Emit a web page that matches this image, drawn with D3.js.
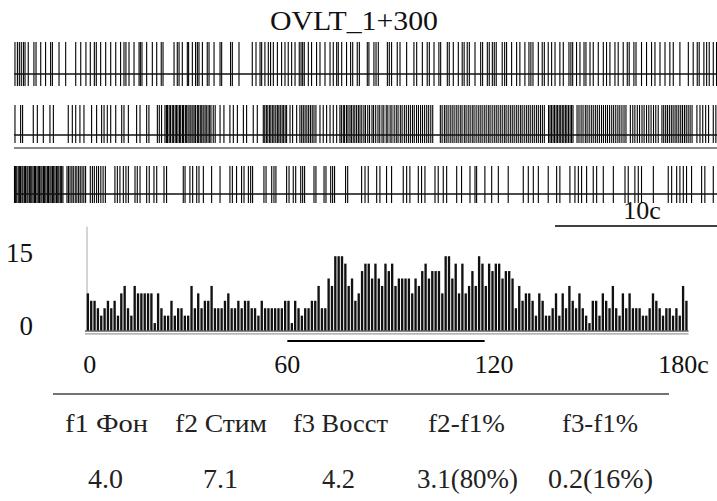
<!DOCTYPE html>
<html><head><meta charset="utf-8">
<script src="https://cdn.jsdelivr.net/npm/d3@7"></script>
<style>body{margin:0;background:#fff}svg{display:block}svg text{font-family:"Liberation Serif","Times New Roman",Times,serif;}</style>
</head><body>
<svg id="c" width="717" height="501"></svg>
<script>
const title = "OVLT_1+300";
const rasterRow1 = [0.06,0.21,0.33,0.45,0.58,0.68,0.88,1.23,1.36,1.65,1.95,2.26,2.37,2.78,3.19,3.81,4.12,4.44,4.71,4.96,5.08,5.35,5.66,5.97,6.28,6.58,6.79,6.91,7.10,7.41,7.72,7.80,7.90,8.19,8.54,8.81,9.09,9.20,9.88,10.08,10.19,10.39,10.70,10.78,11.01,11.21,11.32,11.42,11.63,11.93,12.04,12.35,12.72,12.82,13.37,13.48,13.89,14.71,14.94,15.19,15.29,15.49,15.70,15.84,16.01,16.26,16.52,16.73,16.93,17.14,17.35,17.61,17.72,17.82,17.92,18.17,18.37,18.68,18.89,19.20,19.51,19.71,19.92,20.02,20.23,20.53,20.78,20.91,21.19,21.32,21.81,21.91,22.22,22.35,22.49,23.05,23.17,23.31,23.66,23.83,24.24,24.69,24.86,25.21,25.51,25.64,25.93,26.23,26.34,26.75,26.87,27.12,27.43,27.67,27.79,27.98,28.11,28.46,28.81,28.93,29.22,29.34,29.53,29.65,29.77,30.14,30.29,30.41,30.72,31.03,31.23,31.54,31.79,31.91,32.04,32.37,32.61,32.74,32.98,33.19,33.40,33.70,33.91,34.26,34.38,34.49,34.73,34.94,35.19,35.31,35.56,35.76,36.07,36.38,36.58,36.79,37.10,37.30,37.61,37.86,37.98,38.27,38.40,38.74,39.05,39.36,39.57,39.88,40.19,40.49,40.70,41.11,41.63,41.93,42.18,42.30,42.59,42.76,42.92,43.17,43.37];
const rasterRow2 = [0.06,0.41,0.53,1.19,1.44,1.81,2.22,2.43,3.35,3.60,3.81,4.07,4.32,4.79,5.10,5.41,5.56,5.76,5.97,6.28,6.65,6.79,7.06,7.57,7.78,8.19,8.33,8.85,8.97,9.11,9.32,9.41,9.48,9.58,9.66,9.77,9.84,9.95,10.03,10.12,10.22,10.29,10.40,10.47,10.58,10.66,10.75,10.86,10.93,11.04,11.12,11.21,11.32,11.40,11.50,11.59,11.68,11.79,11.87,11.98,12.08,12.16,12.30,12.42,12.72,12.96,13.33,13.54,13.79,14.16,14.36,14.77,15.02,15.39,15.48,15.58,15.67,15.78,15.86,15.97,16.05,16.16,16.26,16.35,16.44,16.55,16.63,16.74,16.83,17.04,17.20,17.45,17.65,17.76,17.86,17.97,18.08,18.19,18.30,18.41,18.52,18.64,18.89,19.09,19.30,19.51,19.71,19.92,20.12,20.21,20.33,20.41,20.53,20.62,20.74,20.83,20.94,21.04,21.15,21.26,21.36,21.47,21.60,21.70,21.84,21.95,22.10,22.20,22.33,22.47,22.58,22.72,22.83,22.98,23.08,23.22,23.33,23.47,23.60,23.71,23.85,23.96,24.10,24.22,24.35,24.47,24.60,24.71,24.85,24.97,25.10,25.22,25.35,25.48,25.60,25.73,25.85,26.32,26.43,26.57,26.68,26.80,26.93,27.05,27.17,27.30,27.42,27.55,27.66,27.80,27.91,28.04,28.16,28.29,28.40,28.53,28.66,28.78,28.90,29.03,29.15,29.28,29.39,29.52,29.65,29.77,29.89,30.02,30.14,30.27,30.38,30.51,30.64,30.76,30.88,31.01,31.13,31.26,31.37,31.50,31.63,31.75,31.87,32.00,32.12,32.25,32.37,32.50,32.62,32.74,33.00,33.09,33.18,33.28,33.37,33.47,33.56,33.66,33.75,33.85,33.94,34.04,34.13,34.23,34.33,34.42,34.51,34.76,34.88,35.01,35.13,35.27,35.38,35.51,35.64,35.76,35.89,36.01,36.14,36.27,36.39,36.52,36.64,36.77,36.90,37.02,37.15,37.28,37.40,37.53,37.66,37.78,38.05,38.20,38.33,38.48,38.62,38.77,38.90,39.05,39.19,39.33,39.48,39.62,39.77,40.00,40.11,40.23,40.34,40.46,40.58,40.69,40.81,40.92,41.04,41.16,41.27,41.39,41.50,41.62,41.74,41.86,42.16,42.35,42.52,42.70,42.88,43.17,43.33];
const rasterRow3 = [0.03,0.10,0.17,0.26,0.33,0.40,0.49,0.55,0.64,0.71,0.80,0.86,0.95,1.03,1.10,1.18,1.27,1.33,1.42,1.50,1.57,1.66,1.73,1.82,1.89,1.97,2.06,2.13,2.22,2.29,2.38,2.45,2.53,2.62,2.70,2.77,2.86,2.94,3.02,3.27,3.36,3.46,3.57,3.66,3.78,3.88,3.99,4.09,4.20,4.31,4.42,4.71,4.84,4.96,5.10,5.22,5.36,5.50,5.64,6.23,6.38,6.54,6.75,6.91,7.06,7.47,7.61,7.78,8.19,8.35,8.64,8.81,9.26,9.42,10.45,10.56,10.86,11.03,11.28,11.42,11.69,12.20,12.72,13.33,13.48,13.74,14.05,14.20,14.47,14.61,14.73,15.43,15.56,15.91,16.05,16.17,16.83,16.98,17.24,17.39,17.70,17.82,17.94,18.52,18.64,19.14,19.26,19.55,19.67,19.79,20.47,20.60,21.46,21.67,21.87,22.39,22.59,23.00,23.31,24.03,24.24,24.44,24.96,25.16,25.37,25.99,26.19,26.50,26.71,27.33,27.63,28.15,28.46,28.56,29.07,29.49,29.90,30.51,31.44,31.75,32.06,32.37,32.98,33.50,33.70,34.32,34.63,34.84,35.04,35.35,35.76,35.97,36.38,37.00,37.72,37.92,38.33,38.54,38.74,39.47,40.39,40.60,40.91,41.11,41.32,41.52,41.83,42.45,42.65,43.17];
const scaleBarSeconds = 10;
const scaleBarLabel = "10c";
const histCounts = [5,4,4,3,2,3,4,3,4,2,5,6,3,2,6,5,5,5,5,5,1,5,3,2,2,4,2,3,3,2,2,6,3,5,3,4,4,6,3,3,3,4,5,3,3,4,3,4,4,3,3,2,4,3,3,3,3,3,3,4,
4,1,4,3,2,3,3,4,4,6,3,3,7,6,10,10,10,9,6,7,4,5,8,9,9,7,9,7,6,9,8,9,6,7,7,7,7,5,7,6,8,9,7,8,8,8,5,10,10,7,9,5,9,5,6,8,6,10,9,6,
9,8,9,9,7,8,8,7,3,6,4,5,5,4,2,5,4,2,2,3,5,2,5,3,6,4,3,5,3,2,1,4,4,2,5,4,3,6,3,2,5,3,5,3,3,3,2,2,3,5,4,3,2,3,3,2,3,2,6,4];
const yTickValues = [0, 15];
const yTickLabels = ["0", "15"];
const xTickValues = [0, 60, 120, 180];
const xTickLabels = ["0", "60", "120", "180c"];
const stimulus = [60, 119];
const tableHeaders = ["f1 Фон", "f2 Стим", "f3 Восст", "f2-f1%", "f3-f1%"];
const tableValues = ["4.0", "7.1", "4.2", "3.1(80%)", "0.2(16%)"];

const svg = d3.select("#c");

// title
svg.append("text").attr("x", 270).attr("y", 30)
  .attr("textLength", 168).attr("lengthAdjust", "spacingAndGlyphs")
  .attr("font-size", 28).attr("fill", "#111").text(title);

// rasters
const xr = d3.scaleLinear().domain([0, 43.4]).range([14, 717]);
const rows = [
  {data: rasterRow1, y0: 42, y1: 86, base: 74},
  {data: rasterRow2, y0: 105, y1: 143, base: 135},
  {data: rasterRow3, y0: 166, y1: 203, base: 194}
];
rows.forEach(r => {
  svg.append("g").selectAll("line").data(r.data).join("line")
    .attr("x1", d => xr(d)).attr("x2", d => xr(d))
    .attr("y1", r.y0).attr("y2", r.y1)
    .attr("stroke", "#000").attr("stroke-width", 1.1);
  svg.append("line").attr("x1", xr(0)).attr("x2", xr.range()[1])
    .attr("y1", r.base).attr("y2", r.base).attr("stroke", "#111").attr("stroke-width", 1.5);
});
svg.append("line").attr("x1", xr(0)).attr("x2", xr.range()[1])
  .attr("y1", 148).attr("y2", 148).attr("stroke", "#888").attr("stroke-width", 2);

// scale bar
const sbEnd = xr.domain()[1], sbStart = sbEnd - scaleBarSeconds;
svg.append("line").attr("x1", xr(sbStart)).attr("x2", xr(sbEnd))
  .attr("y1", 226).attr("y2", 226).attr("stroke", "#000").attr("stroke-width", 1.6);
svg.append("text").attr("x", 642).attr("y", 219).attr("text-anchor", "middle")
  .attr("font-size", 26).attr("fill", "#111").text(scaleBarLabel);

// histogram
const xh = d3.scaleLinear().domain([0, 180]).range([86.7, 688.6]);
const yh = d3.scaleLinear().domain([0, 14]).range([330.5, 226.5]);
const yLab = d3.scaleLinear().domain([0, 15]).range([326, 253]);
svg.append("line").attr("x1", 87).attr("x2", 87).attr("y1", yh(14)).attr("y2", yh(0))
  .attr("stroke", "#aaa").attr("stroke-width", 1);
svg.append("g").selectAll("rect").data(histCounts).join("rect")
  .attr("x", (d, i) => xh(i)).attr("width", (d, i) => xh(i + 1) - xh(i) - 1)
  .attr("y", d => yh(d)).attr("height", d => yh(0) - yh(d))
  .attr("fill", "#111");
svg.append("line").attr("x1", 85).attr("x2", xh(180)).attr("y1", 331).attr("y2", 331)
  .attr("stroke", "#111").attr("stroke-width", 1.2);
svg.append("line").attr("x1", 85).attr("x2", xh(180)).attr("y1", 333.8).attr("y2", 333.8)
  .attr("stroke", "#999").attr("stroke-width", 1.2);
svg.append("g").selectAll("text").data(yTickValues).join("text")
  .attr("x", 33).attr("y", d => yLab(d)).attr("dy", "0.35em").attr("text-anchor", "end")
  .attr("font-size", 27).attr("fill", "#111").text((d, i) => yTickLabels[i]);
svg.append("g").selectAll("text").data(xTickValues).join("text")
  .attr("x", (d, i) => xh(d) + [3, 0, 6, -5][i]).attr("y", 373).attr("text-anchor", "middle")
  .attr("font-size", 26).attr("fill", "#111").text((d, i) => xTickLabels[i]);
svg.append("line").attr("x1", xh(stimulus[0])).attr("x2", xh(stimulus[1]))
  .attr("y1", 341).attr("y2", 341).attr("stroke", "#000").attr("stroke-width", 2.2);

// table
svg.append("line").attr("x1", 53).attr("x2", 669).attr("y1", 394).attr("y2", 394)
  .attr("stroke", "#444").attr("stroke-width", 1.5);
const headPos = [[65, 83], [175, 92], [293, 95], [428, 77], [562, 76]];
const valPos = [[88, 35], [203, 35], [322, 33], [417, 101], [548, 105]];
svg.append("g").selectAll("text").data(tableHeaders).join("text")
  .attr("x", (d, i) => headPos[i][0]).attr("y", 432)
  .attr("textLength", (d, i) => headPos[i][1]).attr("lengthAdjust", "spacingAndGlyphs")
  .attr("font-size", 25).attr("fill", "#222").text(d => d);
svg.append("g").selectAll("text").data(tableValues).join("text")
  .attr("x", (d, i) => valPos[i][0]).attr("y", 488)
  .attr("textLength", (d, i) => valPos[i][1]).attr("lengthAdjust", "spacingAndGlyphs")
  .attr("font-size", 27).attr("fill", "#222").text(d => d);
</script>
</body></html>
